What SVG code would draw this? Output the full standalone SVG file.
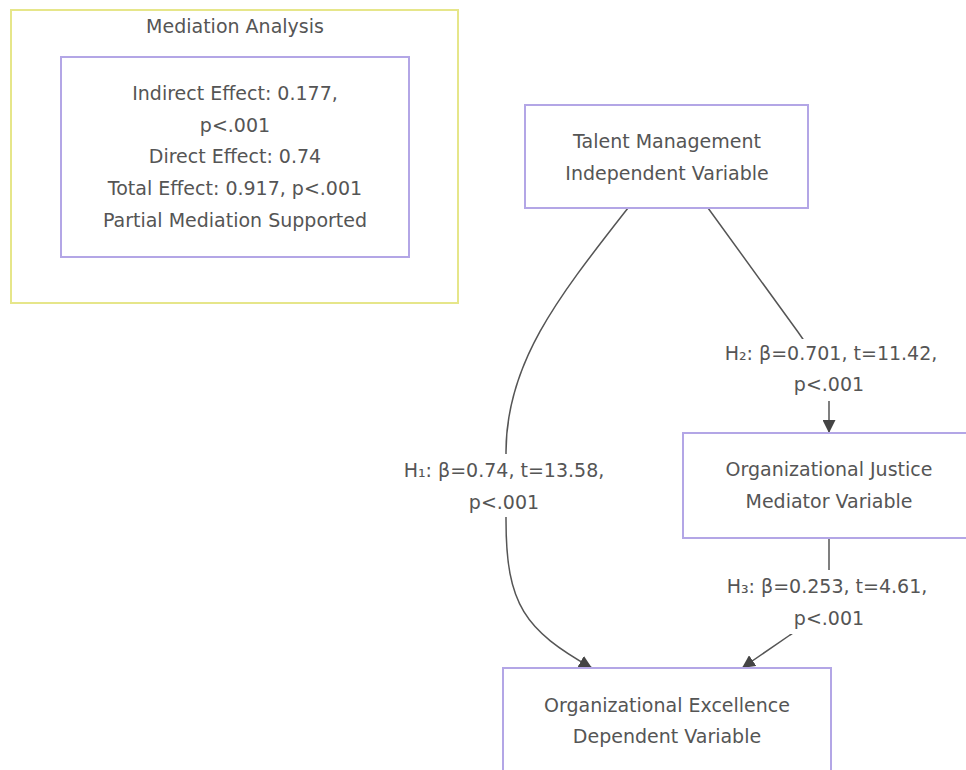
<svg xmlns="http://www.w3.org/2000/svg" width="966" height="770" viewBox="0 0 966 770">
<style>
.t{font-family:"DejaVu Sans","Liberation Sans",sans-serif;font-size:19px;fill:#555;text-anchor:middle}
.node{fill:#fff;stroke:#b3a6e6;stroke-width:2}
.cluster{fill:#fff;stroke:#e6e68a;stroke-width:2}
.edge{fill:none;stroke:#555;stroke-width:1.5}
.lbl{fill:#fff;stroke:none}
</style>
<defs>
<marker id="arr" viewBox="0 0 10 10" refX="10" refY="5" markerWidth="13" markerHeight="13" markerUnits="userSpaceOnUse" orient="auto">
<path d="M0,0 L10,5 L0,10 z" fill="#444"/>
</marker>
</defs>
<rect width="966" height="770" fill="#fff"/>
<g id="mediation-cluster">
<rect class="cluster" x="11" y="10" width="447" height="293"/>
<text class="t" x="235" y="33">Mediation Analysis</text>
</g>
<g id="mediation-node">
<rect class="node" x="61" y="57" width="348" height="200"/>
<text class="t" x="235" y="100">Indirect Effect: 0.177,</text>
<text class="t" x="235" y="132">p&lt;.001</text>
<text class="t" x="235" y="163">Direct Effect: 0.74</text>
<text class="t" x="235" y="195">Total Effect: 0.917, p&lt;.001</text>
<text class="t" x="235" y="227">Partial Mediation Supported</text>
</g>
<g id="connectors">
<path class="edge" d="M628,208 C560,295 506,362 506,452 L506,520 C506,605 525,630 592,668" marker-end="url(#arr)"/>
<path class="edge" d="M708,208 L798,332 Q829,375 829,400 L829,433" marker-end="url(#arr)"/>
<path class="edge" d="M829,538 L829,580 Q829,610 790,635 L742,668" marker-end="url(#arr)"/>
<g id="label-h1">
<rect class="lbl" x="396" y="454" width="212" height="63"/>
<text class="t" x="504" y="477">H₁: β=0.74, t=13.58,</text>
<text class="t" x="504" y="509">p&lt;.001</text>
</g>
<g id="label-h2">
<rect class="lbl" x="716" y="339" width="232" height="62"/>
<text class="t" x="831" y="360">H₂: β=0.701, t=11.42,</text>
<text class="t" x="829" y="391">p&lt;.001</text>
</g>
<g id="label-h3">
<rect class="lbl" x="722" y="570" width="212" height="64"/>
<text class="t" x="827" y="593">H₃: β=0.253, t=4.61,</text>
<text class="t" x="829" y="625">p&lt;.001</text>
</g>
</g>
<g id="talent">
<rect class="node" x="525" y="105" width="283" height="103"/>
<text class="t" x="667" y="148">Talent Management</text>
<text class="t" x="667" y="180">Independent Variable</text>
</g>
<g id="justice">
<rect class="node" x="683" y="433" width="292" height="105"/>
<text class="t" x="829" y="476">Organizational Justice</text>
<text class="t" x="829" y="508">Mediator Variable</text>
</g>
<g id="excellence">
<rect class="node" x="503" y="668" width="328" height="120"/>
<text class="t" x="667" y="712">Organizational Excellence</text>
<text class="t" x="667" y="743">Dependent Variable</text>
</g>
</svg>
